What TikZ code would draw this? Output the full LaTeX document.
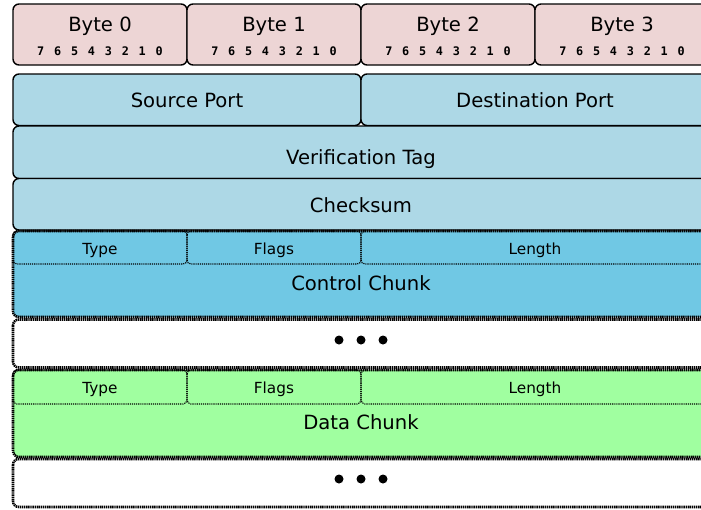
\documentclass[tikz,border=0pt]{standalone}
\usepackage{fontspec}
\setmainfont{DejaVu Sans}
\newfontfamily\bitfont{DejaVu Sans Mono}
\definecolor{bytepink}{RGB}{237,213,213}
\definecolor{hdrblue}{RGB}{173,216,230}
\definecolor{ctrlblue}{RGB}{112,200,228}
\definecolor{datagreen}{RGB}{160,255,160}
\tikzset{
  box/.style={draw=black, line width=1.4pt, rounded corners=6pt},
  chunk/.style={draw=black, line width=2.6pt, dash pattern=on 1.4pt off 0.7pt, rounded corners=6pt},
  field/.style={draw=black, line width=1.2pt, dash pattern=on 1.1pt off 1pt, rounded corners=4pt},
  big/.style={font=\fontsize{19.6}{22}\selectfont, anchor=base, inner sep=0pt},
  small/.style={font=\fontsize{15.3}{18}\selectfont, anchor=base, inner sep=0pt},
  bit/.style={font=\bitfont\bfseries\fontsize{11.8}{13}\selectfont, anchor=base, inner sep=0pt},
  dotmark/.style={circle, fill=black, inner sep=0pt, minimum size=9pt},
}
\begin{document}
\begin{tikzpicture}[x=1pt,y=-1pt]
\useasboundingbox (0,0) rectangle (701,509);
\clip (0,0) rectangle (701,509);

% byte header row with bit numbering
\foreach \i in {0,...,3} {
  \pgfmathsetmacro\xl{13+174*\i}
  \pgfmathsetmacro\xc{100+174*\i}
  \draw[box, fill=bytepink] (\xl,4) rectangle ++(174,61);
  \node[big] (byte\i) at (\xc,31) {Byte \i};
  \foreach \b [count=\k from 0] in {7,...,0} {
    \node[bit] (bit\i-\b) at ({\xc-59.2+16.9*\k},55.7) {\b};
  }
}

% common header
\draw[box, fill=hdrblue] (13,74) rectangle (361,125.5);
\draw[box, fill=hdrblue] (361,74) rectangle (709,125.5);
\node[big] (src) at (187,107.3) {Source Port};
\node[big] (dst) at (535,107.3) {Destination Port};
\draw[box, fill=hdrblue] (13,126) rectangle (709,178.5);
\node[big] (vtag) at (361,164) {Verification Tag};
\draw[box, fill=hdrblue] (13,178.5) rectangle (709,230);
\node[big] (csum) at (361,212.7) {Checksum};

% control chunk
\fill[ctrlblue, rounded corners=6pt] (13,231) rectangle (709,317);
\draw[field] (13,231) rectangle (187,264);
\draw[field] (187,231) rectangle (361,264);
\draw[field] (361,231) rectangle (709,264);
\draw[chunk] (13,231) rectangle (709,317);
\node[small] (ctype) at (100,254) {Type};
\node[small] (cflags) at (274,254) {Flags};
\node[small] (clen) at (535,254) {Length};
\node[big] (ctrl) at (361,290.3) {Control Chunk};

% further chunks (elided)
\draw[chunk, fill=white] (13,319.5) rectangle (709,367.5);
\node[dotmark] (e1a) at (339,340) {};
\node[dotmark] (e1b) at (361,340) {};
\node[dotmark] (e1c) at (383,340) {};

% data chunk
\fill[datagreen, rounded corners=6pt] (13,370) rectangle (709,457);
\draw[field] (13,370) rectangle (187,404);
\draw[field] (187,370) rectangle (361,404);
\draw[field] (361,370) rectangle (709,404);
\draw[chunk] (13,370) rectangle (709,457);
\node[small] (dtype) at (100,393.3) {Type};
\node[small] (dflags) at (274,393.3) {Flags};
\node[small] (dlen) at (535,393.3) {Length};
\node[big] (data) at (361,429.3) {Data Chunk};

% further chunks (elided)
\draw[chunk, fill=white] (13,459) rectangle (709,507);
\node[dotmark] (e2a) at (339,479) {};
\node[dotmark] (e2b) at (361,479) {};
\node[dotmark] (e2c) at (383,479) {};
\end{tikzpicture}
\end{document}
